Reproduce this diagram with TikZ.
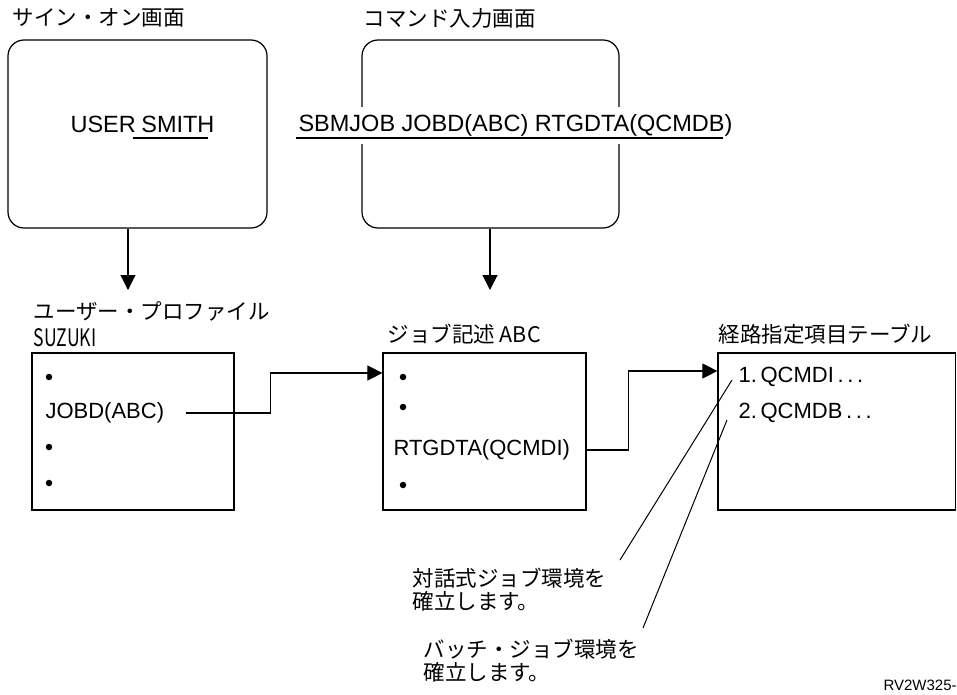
\documentclass[tikz,border=0pt]{standalone}
\usepackage{fontspec}
\usepackage{graphicx}
\setmainfont{Liberation Sans}
\newfontfamily\jp{Noto Sans CJK JP}
\usetikzlibrary{arrows.meta}
\begin{document}
\begin{tikzpicture}[x=1pt,y=-1pt, line width=1.1pt,
  scr/.style={draw, rounded corners=16pt, line width=1.2pt},
  box/.style={draw, line width=1.2pt, inner sep=0},
  lbl/.style={anchor=west, inner sep=0, font=\fontsize{21.5}{25}\selectfont\jp},
  big/.style={anchor=west, inner sep=0, font=\fontsize{23.5}{27}\selectfont},
  item/.style={anchor=west, inner sep=0, font=\fontsize{22}{25}\selectfont},
  dot/.style={circle, fill, inner sep=0, minimum size=6.5pt},
  arr/.style={-{Triangle[length=15pt,width=15pt]}},
]
\useasboundingbox (0,0) rectangle (957,695);

% top screens
\node[scr, minimum width=259pt, minimum height=188pt] (signon) at (137.5,134) {};
\node[scr, minimum width=257pt, minimum height=188pt] (cmdscr) at (490.5,134) {};
\node[lbl] (t1) at (12,18) {サイン・オン画面};
\node[lbl] (t2) at (363,18) {コマンド入力画面};
\node[big] (user) at (70,124) {USER\hspace{-1pt} SMITH};
\draw (133,138) -- (208,138);
\node[big, fill=white, minimum height=37pt] (cmd) at (298,125.5) {SBMJOB JOBD(ABC) RTGDTA(QCMDB)};
\draw (296,138) -- (723,138);

% down arrows
\coordinate (a1) at (128,290);
\coordinate (a2) at (490,290);
\draw[arr] (signon.south -| a1) -- (a1);
\draw[arr] (cmdscr.south -| a2) -- (a2);

% lower titles
\node[lbl] (t3) at (33,311) {ユーザー・プロファイル};
\node[lbl] (t3b) at (33,338) {\scalebox{0.82}[1.12]{SUZUKI}};
\node[lbl] (t4) at (387,334) {ジョブ記述 ABC};
\node[lbl] (t5) at (718,334) {経路指定項目テーブル};

% lower boxes
\node[box, minimum width=202pt, minimum height=157pt] (prof) at (133,431.5) {};
\node[box, minimum width=203pt, minimum height=157pt] (jobdesc) at (484.5,431.5) {};
\node[box, minimum width=237.5pt, minimum height=157pt] (rtab) at (836.75,431.5) {};

% profile contents
\node[dot] (b1) at (49,377) {};
\node[item] (jobd) at (45,413) {JOBD(ABC)};
\node[dot] (b2) at (49,447) {};
\node[dot] (b3) at (49,483) {};

% job description contents
\node[dot] (c1) at (403,377) {};
\node[dot] (c2) at (403,407) {};
\node[item] (rtg) at (393,450) {RTGDTA(QCMDI)};
\node[dot] (c3) at (403,485) {};

% routing table contents
\node[item] (q1) at (738,377) {1.\,QCMDI\,.\,.\,.};
\node[item] (q2) at (738,413) {2.\,QCMDB\,.\,.\,.};

% connectors
\draw[arr] ([xshift=21pt]jobd.east) -- ++(85,0) |- ([yshift=58.5pt]jobdesc.west);
\draw[arr] (jobdesc.east |- rtg) -- ++(42,0) |- ([yshift=60.5pt]rtab.west);

% notes
\node[lbl] (n1a) at (412,578) {対話式ジョブ環境を};
\node[lbl] (n1b) at (412,601) {確立します。};
\node[lbl] (n2a) at (423,649) {バッチ・ジョブ環境を};
\node[lbl] (n2b) at (423,672) {確立します。};
\coordinate (e1) at (620,560);
\coordinate (e2) at (643,628);
\coordinate (l1) at (732,380);
\coordinate (l2) at (727,420);
\draw[line width=1pt] (e1) -- (l1);
\draw[line width=1pt] (e2) -- (l2);

\node[anchor=west, inner sep=0, font=\fontsize{15}{18}\selectfont] (code) at (883,685) {RV2W325-};
\end{tikzpicture}
\end{document}
